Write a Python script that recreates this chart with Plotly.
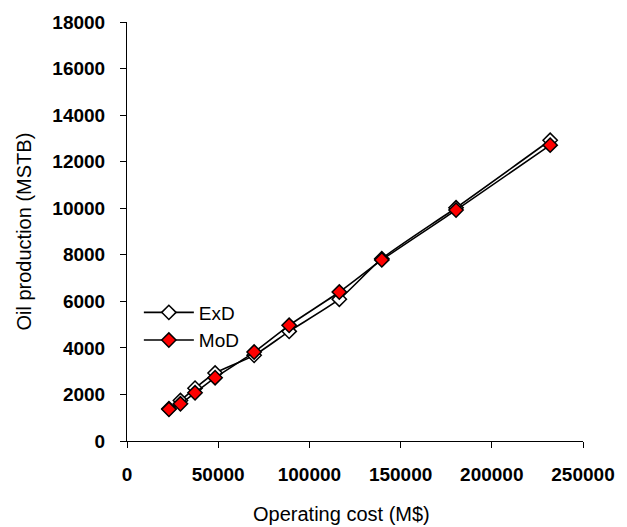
import plotly.graph_objects as go

operating_cost = [23000, 29300, 37300, 48300, 69700, 88900, 116400, 139700, 180400, 232000]
exd_production = [1390, 1740, 2270, 2920, 3680, 4710, 6090, 7830, 10020, 12920]
mod_production = [1360, 1600, 2070, 2720, 3820, 4970, 6400, 7780, 9920, 12710]

x_ticks = [0, 50000, 100000, 150000, 200000, 250000]
y_ticks = [0, 2000, 4000, 6000, 8000, 10000, 12000, 14000, 16000, 18000]

fig = go.Figure()
fig.add_trace(go.Scatter(
    x=operating_cost, y=exd_production, name="ExD", mode="lines+markers",
    line=dict(color="black", width=1.6, shape="spline", smoothing=0.6),
    marker=dict(symbol="diamond", size=11, color="white", line=dict(color="black", width=1.5)),
))
fig.add_trace(go.Scatter(
    x=operating_cost, y=mod_production, name="MoD", mode="lines+markers",
    line=dict(color="black", width=1.6, shape="spline", smoothing=0.6),
    marker=dict(symbol="diamond", size=11, color="#ff0000", line=dict(color="black", width=1.5)),
))

tickfont = dict(family="Liberation Sans, Arial", size=19, color="black", weight="bold")
titlefont = dict(family="Liberation Sans, Arial", size=20, color="black")
legendfont = dict(family="Liberation Sans, Arial", size=19, color="black")

fig.update_layout(
    width=627, height=527,
    margin=dict(l=127, r=36, t=17, b=86),
    paper_bgcolor="white", plot_bgcolor="white",
    showlegend=True,
    legend=dict(x=0.026, y=0.352, xanchor="left", yanchor="top",
                font=legendfont,
                bgcolor="rgba(0,0,0,0)", itemwidth=50, tracegroupgap=0),
    xaxis=dict(range=[0, 250000], tickvals=x_ticks, ticktext=[str(v) for v in x_ticks],
               showgrid=False, zeroline=False, showline=True, linecolor="black", linewidth=1,
               ticks="outside", ticklen=6, tickcolor="black", tickfont=tickfont,
               ticklabelstandoff=10),
    yaxis=dict(range=[0, 18000], tickvals=y_ticks, ticktext=[str(v) for v in y_ticks],
               showgrid=False, zeroline=False, showline=True, linecolor="black", linewidth=1,
               ticks="outside", ticklen=6, tickcolor="black", tickfont=tickfont,
               ticklabelstandoff=11),
    annotations=[
        dict(text="Operating cost (M$)", xref="paper", yref="paper", x=0.47, y=-0.175,
             xanchor="center", yanchor="middle", showarrow=False, font=titlefont),
        dict(text="Oil production (MSTB)", xref="paper", yref="paper", x=-0.228, y=0.5,
             xanchor="center", yanchor="middle", showarrow=False, textangle=-90,
             font=titlefont),
    ],
)

fig.write_html("out.html")
